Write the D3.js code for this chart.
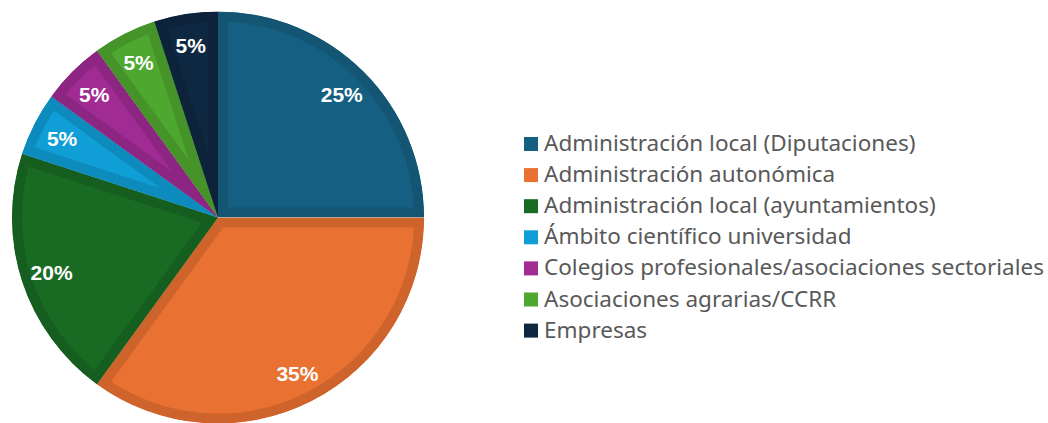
<!DOCTYPE html>
<html lang="es">
<head>
<meta charset="UTF-8">
<script src="https://d3js.org/d3.v7.min.js"></script>
<style>
  body { margin: 0; background: #fff; }
  .label { font-family: "Liberation Sans", Arial, sans-serif; font-weight: bold; font-size: 21px; fill: #fff; }
  .legend text { font-family: "Noto Sans", sans-serif; font-size: 22.5px; fill: #595959; }
</style>
</head>
<body>
<svg id="pie"></svg>
<script>

const categories = [
    "Administración local (Diputaciones)",
    "Administración autonómica",
    "Administración local (ayuntamientos)",
    "Ámbito científico universidad",
    "Colegios profesionales/asociaciones sectoriales",
    "Asociaciones agrarias/CCRR",
    "Empresas"
]
const values = [25, 35, 20, 5, 5, 5, 5]
const colors = ["#156082", "#E97132", "#196B24", "#0F9ED5", "#A02B93", "#4EA72E", "#0E2841"]

const W = 1048, H = 423,
    cx = 218, cy = 217.5,
    radius = 206,
    labelRadius = 175

const svg = d3.select("#pie")
    .attr("width", W)
    .attr("height", H)

const data = categories.map((c, i) => ({cat: c, value: values[i], color: colors[i]}))

const pie = d3.pie()
    .value(d => d.value)
    .sort(null)

const arc = d3.arc()
    .innerRadius(0)
    .outerRadius(radius)

const labelArc = d3.arc()
    .innerRadius(labelRadius)
    .outerRadius(labelRadius)

const total = d3.sum(values)

const g = svg.append("g")
    .attr("transform", `translate(${cx},${cy})`)

const defs = svg.append("defs")

const slices = g.selectAll(".slice")
  .data(pie(data))
  .join("g")
    .attr("class", "slice")

// clip each slice so a wide stroke makes the darker inner border
slices.each(function(d, i) {
    defs.append("clipPath")
        .attr("id", "clip" + i)
      .append("path")
        .attr("d", arc(d))
})

slices.append("path")
    .attr("d", arc)
    .attr("fill", d => d.data.color)
    .attr("stroke", d => d3.color(d.data.color).darker(0.35))
    .attr("stroke-width", 20)
    .attr("stroke-linejoin", "miter")
    .attr("clip-path", (d, i) => `url(#clip${i})`)

slices.append("text")
    .attr("class", "label")
    .attr("transform", d => `translate(${labelArc.centroid(d)})`)
    .attr("text-anchor", "middle")
    .attr("y", 8)
    .text(d => Math.round(d.data.value / total * 100) + "%")

// legend
const legend = svg.append("g")
    .attr("class", "legend")
    .attr("transform", "translate(524,144)")

const rowH = 31.1

const items = legend.selectAll("g")
  .data(data)
  .join("g")
    .attr("transform", (d, i) => `translate(0,${i * rowH})`)

items.append("rect")
    .attr("x", 0)
    .attr("y", -7)
    .attr("width", 14)
    .attr("height", 14)
    .attr("fill", d => d.color)

items.append("text")
    .attr("x", 20)
    .attr("y", 7)
    .text(d => d.cat)

</script>
</body>
</html>
